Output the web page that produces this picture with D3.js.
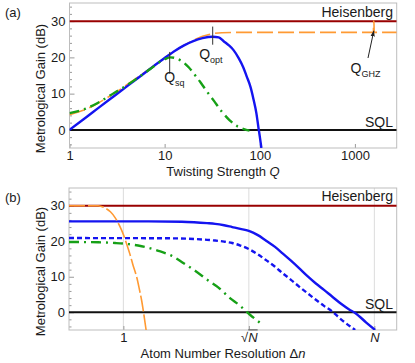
<!DOCTYPE html>
<html><head><meta charset="utf-8">
<script src="https://cdn.jsdelivr.net/npm/d3@7"></script>
<style>
body{margin:0;background:#fff}
text{font-family:"Liberation Sans",Arial,Helvetica,sans-serif;fill:#1a1a1a}
</style>
</head><body>
<svg id="chart" width="415" height="363"></svg>
<script>
// ---------- data: panel (a) ----------
const aTickX = [1, 10, 100, 1000];
const aTickY = [0, 10, 20, 30];
const aHeisenberg = 30;
const aSQL = 0;
const aBlue = [[1,0],[1.5,3.5],[2,6.0],[3,9.5],[5,13.9],[7,16.8],[10,19.8],[13,21.9],[16,23.3],[20,24.5],[25,25.3],[32,25.7],[37,25.5],[42,24.4],[47,23.4],[53,22.0],[60,19.8],[67,17.3],[73,14.7],[80,11.8],[86,8.4],[92,4.7],[97,0.5],[100,-1.8],[104,-5]];
const aGreen = [[1,4.6],[1.5,5.9],[2,7.5],[3,10.3],[4,12.3],[5,14.0],[7,16.7],[10,19.5],[11.5,20.0],[13,19.8],[15,19.0],[18,17.2],[21,15.0],[24,13.0],[28,10.5],[33,8.0],[40,5.0],[48,2.7],[58,1.0],[68,0.2],[78,-0.2]];
const aOrange = [[1,4.2],[1.5,5.7],[2,7.4],[3,10.2],[5,14.2],[7,16.9],[10,19.8],[13,21.9],[16,23.3],[20,24.7],[25,25.8],[30,26.4],[40,26.8],[60,26.9],[1565,26.9],[1575,30],[1585,30],[1595,26.9],[2750,26.9]];
const aMarkers = [{q:11.3, lo:15.5, hi:21.5, sub:"sq"}, {q:32, lo:23.5, hi:28.5, sub:"opt"}];
const aGHZ = {q:1580, label:"GHZ"};

// ---------- data: panel (b) ----------
const N = 1000;
const bTickX = [1, Math.sqrt(N), N];
const bTickLabels = ["1", "√N", "N"];
const bTickY = [0, 10, 20, 30];
const bHeisenberg = 30;
const bSQL = 0;
const bOrange = [[0.224,30],[0.5,30],[0.6,29.4],[0.7,28.3],[0.8,26.6],[0.9,24.4],[1.0,21.9],[1.1,19.1],[1.2,16.3],[1.3,13.4],[1.45,9.7],[1.55,6.6],[1.66,3.1],[1.75,-0.3],[1.87,-5]];
const bBlue = [[0.224,25.6],[2,25.6],[5,25.5],[7,25.35],[10,25.1],[12.5,24.9],[16,24.5],[20,24.0],[25,23.5],[31.6,22.9],[40,21.8],[50,20.3],[65,18.4],[80,16.6],[100,14.6],[125,12.5],[160,10.1],[200,8.1],[250,6.3],[310,4.5],[400,2.4],[500,0.8],[590,-0.2],[800,-2.9],[1020,-5]];
const bBlueDash = [[0.224,20.9],[3,20.85],[6,20.7],[10,20.4],[12.5,20.2],[16,19.9],[20,19.5],[25,18.8],[31.6,17.8],[40,16.4],[50,14.8],[65,12.8],[80,11.0],[100,9.2],[125,7.3],[160,5.3],[200,3.5],[250,1.8],[310,0.3],[400,-2.0],[590,-5]];
const bGreen = [[0.224,19.8],[0.5,19.7],[0.8,19.5],[1.15,19.2],[1.5,18.8],[1.82,18.4],[2.62,17.3],[3.79,15.9],[5.2,13.9],[7.2,11.7],[10.4,8.9],[13.6,7.0],[18.8,4.0],[24.7,1.9],[32.6,-0.7],[45,-3.3]];

// ---------- styles ----------
const C = {red:"#990000", black:"#111", blue:"#1414f0", green:"#16a016", orange:"#ff9a33", frame:"#bdbdbd", tick:"#9a9a9a", grid:"#dcdcdc"};

const svg = d3.select("#chart");
const defs = svg.append("defs");
defs.append("marker").attr("id","arr").attr("viewBox","0 0 10 10").attr("refX",9).attr("refY",5)
  .attr("markerWidth",6).attr("markerHeight",6).attr("orient","auto")
  .append("path").attr("d","M0,1.5 L10,5 L0,8.5 Z").attr("fill","#222");

function panel(cfg){
  const g = svg.append("g");
  const x = d3.scaleLog().domain(cfg.xDomain).range([cfg.left, cfg.right]);
  const y = d3.scaleLinear().domain([-5,35]).range([cfg.bottom, cfg.top]);
  const id = "clip"+cfg.name;
  defs.append("clipPath").attr("id",id).append("rect")
    .attr("x",cfg.left).attr("y",cfg.top).attr("width",cfg.right-cfg.left).attr("height",cfg.bottom-cfg.top);

  if (cfg.grid) {
    g.append("g").selectAll("line").data(cfg.tickX).join("line")
      .attr("x1",d=>x(d)).attr("x2",d=>x(d)).attr("y1",cfg.top).attr("y2",cfg.bottom)
      .attr("stroke",C.grid).attr("stroke-width",1);
  }
  const minorY = d3.range(-4, 35, 2).filter(v=>v%10!==0);
  const ym = g.append("g").attr("transform",`translate(${cfg.left},0)`)
    .call(d3.axisLeft(y).tickValues(minorY).tickSize(-2.5).tickFormat(""));
  ym.select(".domain").remove(); ym.selectAll("line").attr("stroke",C.tick);
  const ya = g.append("g").attr("transform",`translate(${cfg.left},0)`)
    .call(d3.axisLeft(y).tickValues(cfg.tickY).tickSize(-5).tickPadding(4).tickFormat(d3.format("d")));
  ya.select(".domain").remove(); ya.selectAll("line").attr("stroke",C.tick);
  ya.selectAll("text").attr("font-size",13).attr("fill","#1a1a1a").attr("font-family","Liberation Sans, Arial, sans-serif");
  const xa = g.append("g").attr("transform",`translate(0,${cfg.bottom})`)
    .call(d3.axisBottom(x).tickValues(cfg.tickX).tickSize(-4).tickPadding(3).tickFormat((d,i)=>cfg.tickLabels[i]));
  xa.select(".domain").remove(); xa.selectAll("line").attr("stroke",C.tick);
  xa.selectAll("text").attr("font-size",13).attr("fill","#1a1a1a").attr("font-family","Liberation Sans, Arial, sans-serif");
  if (cfg.italicTicks) {
    xa.selectAll("text").each(function(d,i){
      const t = d3.select(this); const lbl = cfg.tickLabels[i];
      if (lbl.indexOf("N")>=0) {
        t.text(null);
        if (lbl.startsWith("√")) {
          t.append("tspan").text("√");
          t.append("tspan").attr("font-style","italic").attr("text-decoration","overline").text("N");
        } else t.append("tspan").attr("font-style","italic").text("N");
      }
    });
  }
  g.append("rect").attr("x",cfg.left).attr("y",cfg.top).attr("width",cfg.right-cfg.left).attr("height",cfg.bottom-cfg.top)
    .attr("fill","none").attr("stroke",C.frame).attr("stroke-width",1);

  const plot = g.append("g").attr("clip-path",`url(#${id})`);
  const line = d3.line().x(d=>x(d[0])).y(d=>y(d[1])).curve(d3.curveMonotoneX);
  const hline = v => line([[cfg.xDomain[0],v],[cfg.xDomain[1],v]]);
  plot.append("path").attr("d",hline(cfg.heis)).attr("stroke",C.red).attr("stroke-width",2).attr("fill","none");
  plot.append("path").attr("d",hline(cfg.sql)).attr("stroke",C.black).attr("stroke-width",2).attr("fill","none");
  cfg.series.forEach(s=>{
    plot.append("path").datum(s.data).attr("d",line).attr("fill","none")
      .attr("stroke",s.color).attr("stroke-width",s.w).attr("stroke-dasharray",s.dash||null);
  });

  g.append("text").attr("x",393).attr("y",y(cfg.heis)-4.5).attr("text-anchor","end").attr("font-size",14).text("Heisenberg");
  g.append("text").attr("x",393).attr("y",y(cfg.sql)-3).attr("text-anchor","end").attr("font-size",14).text("SQL");
  g.append("text").attr("x",5).attr("y",cfg.top+14).attr("font-size",13).text(cfg.name==="a"?"(a)":"(b)");
  g.append("text").attr("transform",`translate(45,${cfg.yLabelC}) rotate(-90)`).attr("text-anchor","middle")
    .attr("font-size",13).text("Metrological Gain (dB)");
  const xt = g.append("text").attr("x",223).attr("y",cfg.bottom+28).attr("text-anchor","middle").attr("font-size",13);
  xt.append("tspan").text(cfg.xTitle[0]);
  xt.append("tspan").attr("font-style","italic").text(cfg.xTitle[1]);
  return {g,x,y};
}

// ---------- panel (a) ----------
const A = panel({name:"a", xDomain:[1,2750], left:69.5, right:396.7, top:3, bottom:148,
  tickX:aTickX, tickLabels:aTickX.map(String), tickY:aTickY, heis:aHeisenberg, sql:aSQL, yLabelC:88.5,
  xTitle:["Twisting Strength ","Q"],
  series:[
    {data:aOrange, color:C.orange, w:1.6, dash:"16,5"},
    {data:aBlue, color:C.blue, w:2.4},
    {data:aGreen, color:C.green, w:2.4, dash:"10,5,2,5"}
  ]});
aMarkers.forEach(m=>{
  A.g.append("line").attr("x1",A.x(m.q)).attr("x2",A.x(m.q)).attr("y1",A.y(m.lo)).attr("y2",A.y(m.hi))
    .attr("stroke","#333").attr("stroke-width",1);
});
function qlabel(g, x, y, sub){
  const t = g.append("text").attr("x",x).attr("y",y).attr("font-size",14);
  t.append("tspan").text("Q");
  t.append("tspan").attr("font-size",9).attr("dy",3.5).text(sub);
}
qlabel(A.g, A.x(aMarkers[0].q)-5.5, 82, aMarkers[0].sub);
qlabel(A.g, A.x(aMarkers[1].q)-13.5, 59, aMarkers[1].sub);
qlabel(A.g, 350.5, 73, aGHZ.label);
A.g.append("line").attr("x1",368).attr("y1",58).attr("x2",A.x(aGHZ.q)).attr("y2",A.y(27.3))
  .attr("stroke","#222").attr("stroke-width",1).attr("marker-end","url(#arr)");

// ---------- panel (b) ----------
const B = panel({name:"b", xDomain:[0.224,1850], left:69, right:396.7, top:188, bottom:330,
  tickX:bTickX, tickLabels:bTickLabels, italicTicks:true, grid:true, tickY:bTickY, heis:bHeisenberg, sql:bSQL, yLabelC:271.5,
  xTitle:["Atom Number Resolution Δ","n"],
  series:[
    {data:bBlue, color:C.blue, w:2.4},
    {data:bBlueDash, color:C.blue, w:2.4, dash:"5,3"},
    {data:bGreen, color:C.green, w:2.4, dash:"10,5,2,5"},
    {data:bOrange, color:C.orange, w:1.6, dash:"16,3"}
  ]});
</script>
</body></html>
